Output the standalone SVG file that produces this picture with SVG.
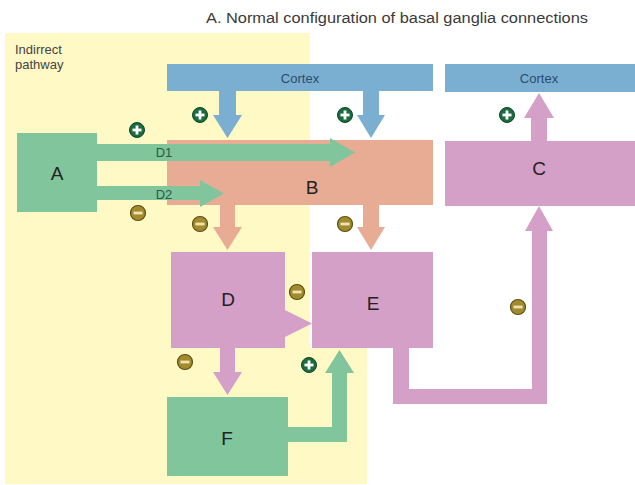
<svg xmlns="http://www.w3.org/2000/svg" xmlns:xlink="http://www.w3.org/1999/xlink" width="635" height="485" viewBox="0 0 635 485">
<style>
  .t { font-family: "Liberation Sans", Arial, sans-serif; }
  .big { font-size: 19px; fill: #222; text-anchor: middle; dominant-baseline: central; }
  .ctx { font-size: 13px; fill: #2d4b6e; text-anchor: middle; dominant-baseline: central; }
  .dl { font-size: 13px; fill: #2d5a47; text-anchor: middle; dominant-baseline: central; }
  .blue { fill: #7aafd2; }
  .green { fill: #80c59b; }
  .salmon { fill: #e8ab93; }
  .pink { fill: #d5a0c8; }
</style>
<defs>
  <g id="plus">
    <circle r="7.5" fill="#1b6b3f" stroke="#0e4526" stroke-width="1"/>
    <rect x="-4.5" y="-1.4" width="9" height="2.8" fill="#fff"/>
    <rect x="-1.4" y="-4.5" width="2.8" height="9" fill="#fff"/>
  </g>
  <g id="minus">
    <circle r="7.5" fill="#a28b2c" stroke="#5d4c12" stroke-width="1.2"/>
    <rect x="-4.5" y="-1.4" width="9" height="2.8" fill="#efe3b5"/>
  </g>
</defs>
<rect width="635" height="485" fill="#fff"/>
<polygon id="indirect-panel" points="5,33 310,33 310,348 367,348 367,484 5,484" fill="#fff9c6"/>
<text class="t" x="206" y="23" font-size="14" fill="#3a3a3a" textLength="382" lengthAdjust="spacingAndGlyphs">A. Normal configuration of basal ganglia connections</text>
<text class="t" font-size="13" fill="#444"><tspan x="15" y="54">Indirrect</tspan><tspan x="15" y="69">pathway</tspan></text>

<g id="cortex1"><rect class="blue" x="167" y="64" width="266" height="27"/><text class="t ctx" x="300" y="78">Cortex</text></g>
<g id="cortex2"><rect class="blue" x="445" y="64" width="190" height="28"/><text class="t ctx" x="539" y="78">Cortex</text></g>
<g id="B"><rect class="salmon" x="167" y="140" width="266" height="65"/><text class="t big" x="312" y="187">B</text></g>
<g id="A"><rect class="green" x="17" y="133" width="80" height="79"/><text class="t big" x="57" y="173">A</text></g>
<g id="C"><rect class="pink" x="445" y="141" width="190" height="65"/><text class="t big" x="539" y="168">C</text></g>
<g id="D"><rect class="pink" x="171" y="252" width="114" height="96"/><text class="t big" x="228" y="299">D</text></g>
<g id="E"><rect class="pink" x="312" y="252" width="121" height="96"/><text class="t big" x="373" y="303">E</text></g>
<g id="F"><rect class="green" x="167" y="397" width="121" height="79"/><text class="t big" x="227" y="438">F</text></g>

<g id="connectors">
  <polygon class="blue" points="219,91 236,91 236,115 242,115 227.5,138 213,115 219,115"/>
  <polygon class="blue" points="363,91 379,91 379,115 385,115 371,138 357,115 363,115"/>
  <polygon class="pink" points="531,141 531,118 524,118 539,93 554,118 547,118 547,141"/>
  <polygon class="green" points="97,144 330,144 330,138 355,152.5 330,167 330,161 97,161"/>
  <polygon class="green" points="97,186 200,186 200,180 224,193.5 200,207 200,200 97,200"/>
  <polygon class="salmon" points="220,205 235,205 235,227 242,227 227.5,250 213,227 220,227"/>
  <polygon class="salmon" points="363,205 379,205 379,227 385,227 371,250 357,227 363,227"/>
  <polygon class="pink" points="285,310 312,323.5 285,337"/>
  <polygon class="pink" points="220,348 235,348 235,372 242,372 227.5,395 213,372 220,372"/>
  <polygon class="green" points="288,427 332,427 332,373 325,373 339.5,350 354,373 347,373 347,442 288,442"/>
  <polygon class="pink" points="393,348 393,404 547,404 547,231 553,231 539,206 525,231 532,231 532,389 409,389 409,348"/>
  <text class="t dl" x="164" y="152">D1</text>
  <text class="t dl" x="164" y="194">D2</text>
</g>

<g id="signs">
  <use xlink:href="#plus" x="137" y="130"/>
  <use xlink:href="#plus" x="200" y="115"/>
  <use xlink:href="#plus" x="345" y="115"/>
  <use xlink:href="#plus" x="507" y="115"/>
  <use xlink:href="#plus" x="309" y="365"/>
  <use xlink:href="#minus" x="138" y="213"/>
  <use xlink:href="#minus" x="200" y="224"/>
  <use xlink:href="#minus" x="345" y="224"/>
  <use xlink:href="#minus" x="297" y="292"/>
  <use xlink:href="#minus" x="185" y="362"/>
  <use xlink:href="#minus" x="518" y="307"/>
</g>
</svg>
